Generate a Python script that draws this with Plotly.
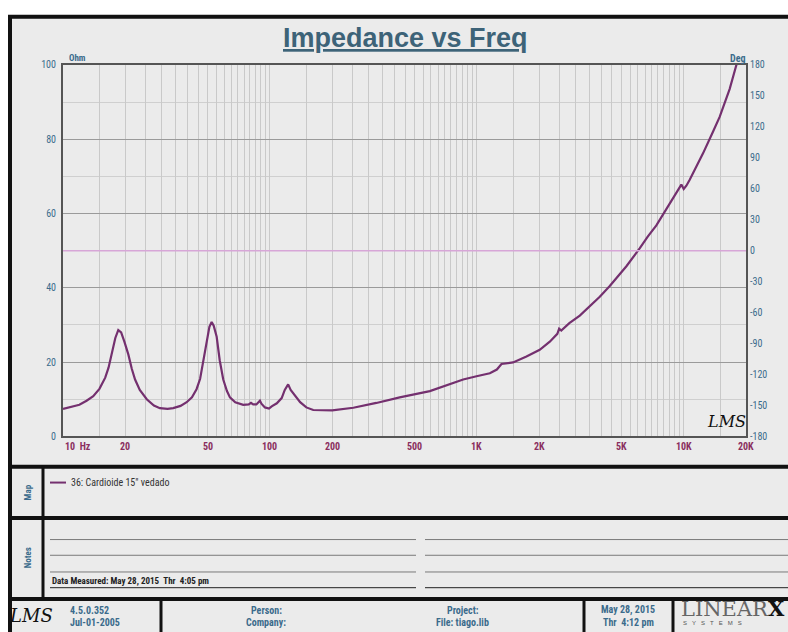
import math
import plotly.graph_objects as go

# ---- measured impedance curve (Hz, Ohm) ----
freq_hz = [10, 11, 12, 13, 14, 15, 16, 16.6, 17.3, 17.9, 18.5, 19.1, 19.8, 20.7, 21.5,
           22.3, 23.5, 25.4, 27.5, 29.4, 32, 34.1, 37, 39.6, 42, 44.2, 46, 47.6, 49.5,
           51, 52.3, 53.5, 55.3, 57.2, 59.5, 62, 64.1, 68, 74.3, 79, 81, 83, 86, 89.5,
           91, 94.6, 99, 102, 108, 114, 118, 122.5, 126, 132, 140, 150, 162, 200, 253,
           327, 424, 593, 741, 859, 997, 1156, 1250, 1316, 1497, 1738, 2014, 2253, 2450,
           2500, 2560, 2800, 3146, 3500, 3929, 4391, 4900, 5285, 6124, 6700, 7376, 8245,
           9211, 9740, 10000, 10300, 10690, 11500, 12400, 13850, 14920, 16670, 17970, 20000]
impedance_ohm = [7.4, 7.9, 8.5, 9.6, 10.8, 12.8, 15.8, 18.5, 22.5, 26.5, 28.6, 28.0, 25.5, 22.0, 18.2,
                 15.3, 12.5, 10.0, 8.3, 7.6, 7.4, 7.6, 8.2, 9.2, 10.5, 12.7, 15.5, 19.8, 25.0,
                 29.5, 30.8, 29.8, 26.8, 20.5, 15.3, 12.2, 10.5, 9.2, 8.5, 8.6, 9.0, 8.6, 8.6, 9.6,
                 8.8, 7.8, 7.5, 8.1, 8.9, 10.3, 12.5, 14.0, 12.5, 10.9, 9.2, 7.8, 7.1, 7.0, 7.7,
                 9.0, 10.5, 12.2, 14.0, 15.3, 16.2, 17.0, 18.0, 19.5, 19.9, 21.5, 23.3, 25.5, 27.6,
                 29.0, 28.5, 30.5, 32.5, 35.0, 37.6, 40.5, 43.5, 45.8, 50.6, 53.8, 56.8, 61.2,
                 65.6, 67.8, 66.6, 67.5, 69.1, 72.5, 76.2, 82.0, 86.0, 93.5, 100.0, 106.0]

curve_name = "36: Cardioide 15\" vedado"

# ---- axes ----
x_label_vals = [10, 20, 50, 100, 200, 500, 1000, 2000, 5000, 10000, 20000]
x_label_text = ["10  Hz", "20", "50", "100", "200", "500", "1K", "2K", "5K", "10K", "20K"]
x_grid_vals = [m * 10 ** d for d in (1, 2, 3) for m in
               (1, 1.5, 2, 2.5, 3, 3.5, 4, 4.5, 5, 5.5, 6, 6.5, 7, 7.5, 8, 8.5, 9, 9.5)] + [10000, 15000, 20000]
ohm_ticks = [0, 20, 40, 60, 80, 100]
ohm_minor = [10, 30, 50, 70, 90]
deg_ticks = list(range(-180, 181, 30))
deg_text = [str(v) for v in deg_ticks]

W, H = 788, 632
BLUE = "#3b6b8c"
MAROON = "#8a2e5e"
NARROW = "Liberation Sans Narrow, Roboto Condensed, Liberation Sans, Arial"


def px(x):
    return x / W


def py(y):
    return 1 - y / H


def label(text, x, y, size, color, anchor="center", family=NARROW, **kw):
    d = dict(text=text, x=px(x), y=py(y), xref="paper", yref="paper", xanchor=anchor,
             yanchor="middle", showarrow=False, font=dict(size=size, color=color, family=family))
    d.update(kw)
    return d


PL, PR, PT, PB = 63, 746, 60, 438

fig = go.Figure()
fig.add_trace(go.Scatter(x=freq_hz, y=impedance_ohm, mode="lines",
                         line=dict(color="#74306f", width=2.2), hoverinfo="x+y",
                         showlegend=False))
# invisible trace to activate the phase axis
fig.add_trace(go.Scatter(x=[10, 20000], y=[0, 0], yaxis="y2", mode="lines",
                         line=dict(color="rgba(0,0,0,0)"), showlegend=False, hoverinfo="skip"))

shapes = []
# outer panel
shapes.append(dict(type="rect", xref="paper", yref="paper", x0=px(10), x1=px(800), y0=py(640), y1=py(11),
                   fillcolor="#ebebeb", line=dict(color="#111", width=4), layer="below"))
# section separators
for yy in (469, 521, 603.5):
    shapes.append(dict(type="line", xref="paper", yref="paper", x0=px(10), x1=px(800), y0=py(yy), y1=py(yy),
                       line=dict(color="#111", width=4)))
shapes.append(dict(type="line", xref="paper", yref="paper", x0=px(43), x1=px(43), y0=py(469), y1=py(603.5),
                   line=dict(color="#111", width=3)))
for xx in (161, 584, 673):
    shapes.append(dict(type="line", xref="paper", yref="paper", x0=px(xx), x1=px(xx), y0=py(603.5), y1=py(640),
                       line=dict(color="#111", width=3)))
# notes ruling
for yy, col in ((543, "#7a7a7a"), (559, "#7a7a7a"), (576, "#7a7a7a"), (592, "#222")):
    for a, b in ((50, 416), (425, 800)):
        shapes.append(dict(type="line", xref="paper", yref="paper", x0=px(a), x1=px(b), y0=py(yy), y1=py(yy),
                           line=dict(color=col, width=1)))
# map legend swatch
shapes.append(dict(type="line", xref="paper", yref="paper", x0=px(50), x1=px(66), y0=py(485), y1=py(485),
                   line=dict(color="#74306f", width=2)))
# zero-phase reference
shapes.append(dict(type="line", xref="paper", yref="y2", x0=px(PL), x1=px(PR), y0=0, y1=0,
                   line=dict(color="#d7a6d7", width=1.5)))

ann = []
ann.append(label("<b><u>Impedance vs Freq</u></b>", 405, 33, 27, "#3d6378", family="Liberation Sans, Arial"))
ann.append(label("<b>Ohm</b>", 67, 53, 9, BLUE, anchor="left"))
ann.append(label("<b>Deg</b>", 737, 53, 10, BLUE))
for v, t in zip(x_label_vals, x_label_text):
    ann.append(dict(text="<b>" + t.replace(" ", "&nbsp;") + "</b>", x=math.log10(v), y=py(448), xref="x",
                    yref="paper", xanchor="left" if v == 10 else "center", yanchor="middle",
                    showarrow=False, font=dict(size=10, color=MAROON, family=NARROW)))
ann.append(label("<i>LMS</i>", 726, 423, 16, "#111", family="DejaVu Serif"))
ann.append(label("<b>Map</b>", 28, 495, 9, BLUE, textangle=-90))
ann.append(label("<b>Notes</b>", 28, 562, 9, BLUE, textangle=-90))
ann.append(label(curve_name, 69, 485, 10, "#333", anchor="left"))
ann.append(label("<b>Data Measured: May 28, 2015&nbsp;&nbsp;Thr&nbsp;&nbsp;4:05 pm</b>", 50, 585, 9, "#222",
                 anchor="left"))
# footer
ann.append(label("<i>LMS</i>", 31, 620, 18, "#111", family="DejaVu Serif"))
footer = [(68, "left", "4.5.0.352", "Jul-01-2005"),
          (266, "center", "Person:", "Company:"),
          (463, "center", "Project:", "File: tiago.lib"),
          (628, "center", "May 28, 2015", "Thr&nbsp;&nbsp;4:12 pm")]
for xx, anc, l1, l2 in footer:
    for yy, t in ((615, l1), (627, l2)):
        ann.append(label("<b>" + t + "</b>", xx, yy, 10, BLUE, anchor=anc))
ann.append(label("LINEAR<span style='color:#111'><b>X</b></span>", 679, 613, 21, "#666",
                 anchor="left", family="DejaVu Serif"))
ann.append(label("S&nbsp;&nbsp;&nbsp;Y&nbsp;&nbsp;&nbsp;S&nbsp;&nbsp;&nbsp;T&nbsp;&nbsp;&nbsp;E&nbsp;&nbsp;&nbsp;M&nbsp;&nbsp;&nbsp;S",
                 681, 628, 6, "#555", anchor="left", family="Liberation Sans"))

fig.update_layout(
    width=W, height=H, autosize=False,
    margin=dict(l=0, r=0, t=0, b=0),
    paper_bgcolor="white", plot_bgcolor="white",
    shapes=shapes, annotations=ann,
    xaxis=dict(type="log", range=[1, math.log10(20000)], domain=[px(PL), px(PR)],
               tickmode="array", tickvals=x_grid_vals, showticklabels=False, ticks="",
               showgrid=True, gridcolor="#c9c9c9", gridwidth=1,
               showline=True, mirror=True, linecolor="#555", linewidth=2, zeroline=False),
    yaxis=dict(range=[0, 100], domain=[py(PB), py(PT)], tickmode="array", tickvals=ohm_ticks,
               showgrid=True, gridcolor="#9a9a9a", gridwidth=1, ticks="",
               minor=dict(tickmode="array", tickvals=ohm_minor, showgrid=True, gridcolor="#cfcfcf"),
               tickfont=dict(size=10, color=BLUE, family=NARROW), ticklabelstandoff=3,
               showline=True, mirror=True, linecolor="#555", linewidth=2, zeroline=False),
    yaxis2=dict(range=[-180, 180], overlaying="y", side="right", anchor="x",
                tickmode="array", tickvals=deg_ticks, ticktext=deg_text, showgrid=False,
                ticks="", ticklabelstandoff=3, zeroline=False, showline=False,
                tickfont=dict(size=10, color=BLUE, family=NARROW)),
    showlegend=False,
)

fig.write_html("out.html")
